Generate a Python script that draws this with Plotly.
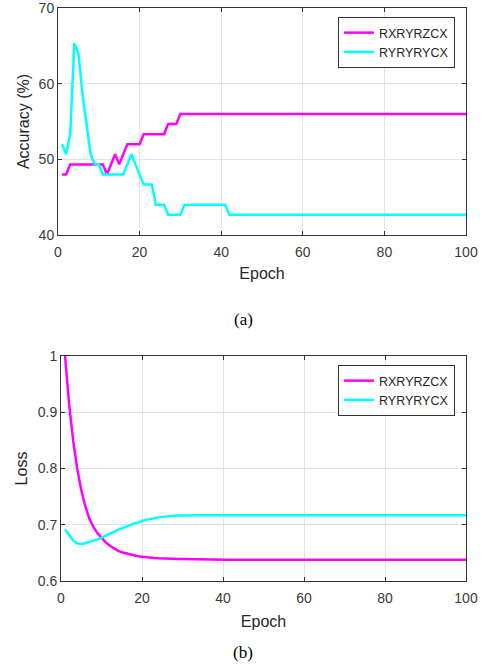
import plotly.graph_objects as go

epochs = list(range(1, 101))

acc_rxryrzcx = (
    [48.0, 48.0, 49.33, 49.33, 49.33, 49.33, 49.33, 49.33, 49.33, 49.33,
     49.33, 48.0, 49.33, 50.67, 49.33, 50.67, 52.0, 52.0, 52.0, 52.0,
     53.33, 53.33, 53.33, 53.33, 53.33, 53.33, 54.67, 54.67, 54.67, 56.0]
    + [56.0] * 70
)

acc_ryryrycx = (
    [52.0, 50.67, 53.33, 65.33, 64.0, 58.67, 54.67, 50.67, 49.33, 49.33,
     48.0, 48.0, 48.0, 48.0, 48.0, 48.0, 49.33, 50.67, 49.33, 48.0,
     46.67, 46.67, 46.67, 44.0, 44.0, 44.0, 42.67, 42.67, 42.67, 42.67,
     44.0, 44.0, 44.0, 44.0, 44.0, 44.0, 44.0, 44.0, 44.0, 44.0,
     44.0]
    + [42.67] * 59
)

loss_rxryrzcx = (
    [1.000, 0.915, 0.850, 0.800, 0.762, 0.733, 0.711, 0.696, 0.685, 0.676,
     0.669, 0.663, 0.658, 0.654, 0.651, 0.649, 0.647, 0.645, 0.644, 0.643,
     0.642, 0.6415, 0.641, 0.6405, 0.640, 0.6398, 0.6396, 0.6394, 0.6392, 0.639,
     0.6388, 0.6386, 0.6384, 0.6382, 0.638]
    + [0.638] * 65
)

loss_ryryrycx = (
    [0.692, 0.681, 0.672, 0.667, 0.666, 0.667, 0.669, 0.671, 0.674, 0.677,
     0.680, 0.684, 0.687, 0.691, 0.694, 0.697, 0.699, 0.702, 0.704, 0.707,
     0.709, 0.710, 0.712, 0.713, 0.714, 0.715, 0.7155, 0.716, 0.7164, 0.7167]
    + [0.717] * 70
)

series_names = ["RXRYRZCX", "RYRYRYCX"]
colors = ["#ff00ff", "#00ffff"]

W, H = 485, 665
def px_x(p):
    return p / W
def px_y(p):
    return (H - p) / H

fig = go.Figure()
fig.add_trace(go.Scatter(x=epochs, y=acc_rxryrzcx, mode="lines", name=series_names[0],
                         line=dict(color=colors[0], width=2.5), xaxis="x", yaxis="y", legend="legend"))
fig.add_trace(go.Scatter(x=epochs, y=acc_ryryrycx, mode="lines", name=series_names[1],
                         line=dict(color=colors[1], width=2.5), xaxis="x", yaxis="y", legend="legend"))
fig.add_trace(go.Scatter(x=epochs, y=loss_rxryrzcx, mode="lines", name=series_names[0],
                         line=dict(color=colors[0], width=2.5), xaxis="x2", yaxis="y2", legend="legend2"))
fig.add_trace(go.Scatter(x=epochs, y=loss_ryryrycx, mode="lines", name=series_names[1],
                         line=dict(color=colors[1], width=2.5), xaxis="x2", yaxis="y2", legend="legend2"))

axis_common = dict(
    automargin=False,
    showgrid=True, gridcolor="#e3e3e3", gridwidth=1,
    showline=True, linecolor="#333333", linewidth=1, mirror="ticks",
    ticks="inside", ticklen=4, tickcolor="#333333",
    tickfont=dict(family="Liberation Sans, Arial", size=14, color="#3a3a3a"),
    ticklabeloverflow="allow",
    zeroline=False,
)
title_font = dict(family="Liberation Sans, Arial", size=16, color="#262626")

legend_common = dict(
    xanchor="right", yanchor="top",
    bgcolor="white", bordercolor="#333333", borderwidth=1,
    font=dict(family="Liberation Sans, Arial", size=12.5, color="#262626"),
    tracegroupgap=0, itemwidth=30,
)

fig.update_layout(
    template="none",
    width=W, height=H,
    margin=dict(l=0, r=0, t=0, b=0, autoexpand=False),
    paper_bgcolor="white", plot_bgcolor="white",
    xaxis=dict(domain=[px_x(58), px_x(466)], range=[0, 100], dtick=20, anchor="y",
               ticklabelstandoff=4,
               title=dict(text="Epoch", font=title_font, standoff=9), **axis_common),
    yaxis=dict(domain=[px_y(235), px_y(8)], range=[40, 70], dtick=10, anchor="x",
               title=dict(text="Accuracy (%)", font=title_font, standoff=5), **axis_common),
    xaxis2=dict(domain=[px_x(61), px_x(466)], range=[0, 100], dtick=20, anchor="y2",
                ticklabelstandoff=4,
                title=dict(text="Epoch", font=title_font, standoff=11), **axis_common),
    yaxis2=dict(domain=[px_y(581), px_y(356)], range=[0.6, 1.0], dtick=0.1, anchor="x2",
                title=dict(text="Loss", font=title_font, standoff=6), **axis_common),
    legend=dict(x=px_x(455), y=px_y(17), **legend_common),
    legend2=dict(x=px_x(455), y=px_y(365), **legend_common),
    annotations=[
        dict(text="(a)", x=px_x(243), y=px_y(319), xref="paper", yref="paper",
             xanchor="center", yanchor="middle",
             showarrow=False, font=dict(family="Liberation Serif, Times New Roman", size=17, color="#000000")),
        dict(text="(b)", x=px_x(243), y=px_y(652), xref="paper", yref="paper",
             xanchor="center", yanchor="middle",
             showarrow=False, font=dict(family="Liberation Serif, Times New Roman", size=17, color="#000000")),
    ],
)

fig.write_html("out.html", config={"displayModeBar": False},
               post_script="document.body.style.margin='0px';")
